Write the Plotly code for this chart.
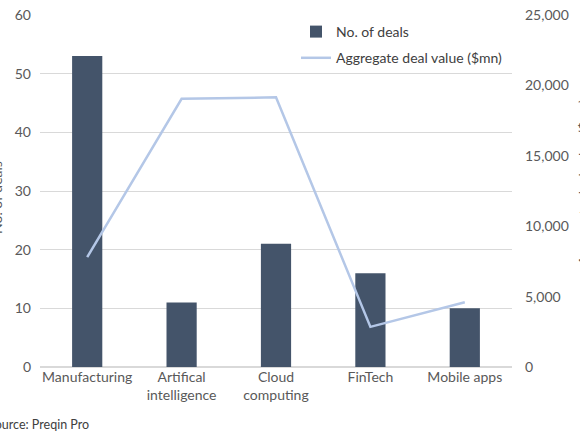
import plotly.graph_objects as go

categories = ['Manufacturing', 'Artifical<br>intelligence', 'Cloud<br>computing', 'FinTech', 'Mobile apps']
deals = [53, 11, 21, 16, 10]
deal_value = [7800, 19050, 19150, 2850, 4600]

BAR = '#44546A'
LINE = '#B4C7E7'
GREY = '#595959'
GRID = '#D9D9D9'

W, H = 580, 435
L, R, T, B = 40, 68, 15, 68
pw = W - L - R
ph = H - T - B

fig = go.Figure()
fig.add_trace(go.Bar(x=categories, y=deals, name='No. of deals', legendgroup='a',
                     marker=dict(color=BAR, line=dict(width=0)), width=0.32))
fig.add_trace(go.Scatter(x=categories, y=deal_value, name='Aggregate deal value ($mn)',
                         legendgroup='b', mode='lines', line=dict(color=LINE, width=2.5),
                         yaxis='y2'))

fig.update_layout(
    width=W, height=H,
    margin=dict(l=L, r=R, t=T, b=B, autoexpand=False),
    plot_bgcolor='white', paper_bgcolor='white',
    font=dict(family='Lato', size=13, color=GREY),
    showlegend=True,
    legend=dict(x=(296 - L) / pw, y=(H - B - 16) / ph, xanchor='left', yanchor='top',
                bgcolor='rgba(0,0,0,0)', font=dict(size=14, color='#404040'),
                traceorder='grouped', tracegroupgap=5, itemwidth=30),
    xaxis=dict(showgrid=False, showline=False, ticks='', tickfont=dict(size=14, color=GREY)),
    yaxis=dict(range=[0, 60], dtick=10, showgrid=True, gridcolor=GRID, gridwidth=1,
               zeroline=True, zerolinecolor=GRID, ticks='', ticklabelstandoff=8,
               tickfont=dict(size=14, color=GREY)),
    yaxis2=dict(range=[0, 25000], dtick=5000, overlaying='y', side='right', showgrid=False,
                zeroline=False, ticks='', tickformat=',', ticklabelstandoff=12,
                tickfont=dict(size=14, color=GREY)),
)

fig.add_annotation(text='No. of deals', xref='paper', yref='paper',
                   x=(-4 - L) / pw, y=(H - B - 198) / ph, textangle=-90,
                   showarrow=False, xanchor='center', yanchor='middle',
                   font=dict(size=14, color=GREY))
fig.add_annotation(text='Aggregate deal value ($mn)', xref='paper', yref='paper',
                   x=(583 - L) / pw, y=(H - B - 182) / ph, textangle=-90,
                   showarrow=False, xanchor='center', yanchor='middle',
                   font=dict(size=14, color=GREY))
fig.add_annotation(text='Source: Preqin Pro', xref='paper', yref='paper',
                   x=(-14 - L) / pw, y=(H - B - 424) / ph, showarrow=False,
                   xanchor='left', yanchor='middle', font=dict(size=12.5, color='#404040'))

fig.write_html('out.html', config={'displayModeBar': False},
               post_script="document.body.style.margin='0';")
